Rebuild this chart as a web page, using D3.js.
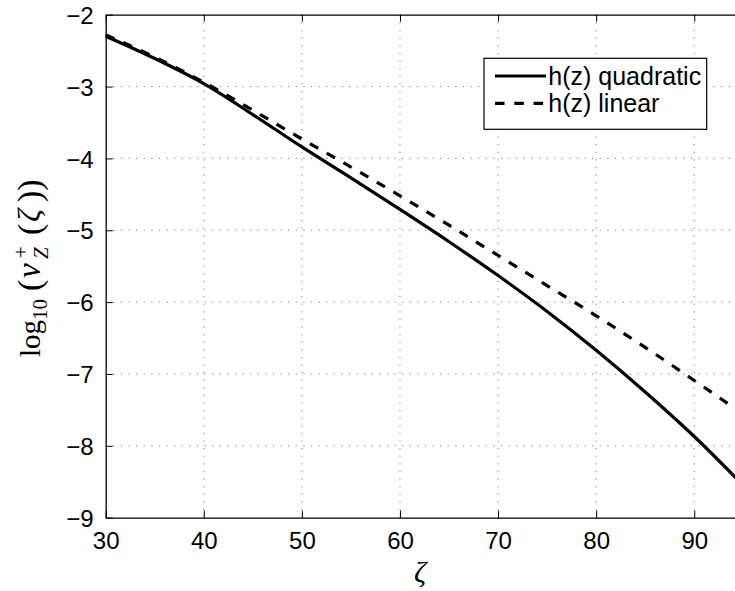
<!DOCTYPE html>
<html>
<head>
<meta charset="utf-8">
<script src="https://cdn.jsdelivr.net/npm/d3@7"></script>
<style>
  body { margin: 0; background: #fff; }
  svg { display: block; }
  .tick text { font-family: "Liberation Sans", Arial, sans-serif; font-size: 24px; fill: #000; }
</style>
</head>
<body>
<div id="chart"></div>
<script>
// zeta values
const zeta = [30, 35, 40, 45, 50, 55, 60, 65, 70, 75, 80, 85, 90, 95];
// log10(nu_Z^+) for h(z) quadratic
const quadratic = [-2.30, -2.61, -2.96, -3.39, -3.84, -4.27, -4.71, -5.16, -5.63, -6.13, -6.67, -7.25, -7.87, -8.55];
// log10(nu_Z^+) for h(z) linear
const linear = [-2.28, -2.59, -2.94, -3.33, -3.73, -4.12, -4.52, -4.93, -5.35, -5.77, -6.19, -6.63, -7.09, -7.56];
const xTicks = [30, 40, 50, 60, 70, 80, 90];
const yTicks = [-9, -8, -7, -6, -5, -4, -3, -2];
const seriesNames = ['h(z) quadratic', 'h(z) linear'];

const width = 735, height = 591;
const margin = [14.7, 73.3, 105.7, -8.3]; // top, bottom, left, right

const svg = d3.select('#chart').append('svg')
    .attr('width', width).attr('height', height);

const x = d3.scaleLinear([30, 95], [margin[2], width - margin[3]]);
const y = d3.scaleLinear([-9, -2], [height - margin[1], margin[0]]);

const x0 = x.range()[0], x1 = x.range()[1];
const y0 = y.range()[0], y1 = y.range()[1];

// grid
const grid = svg.append('g')
    .attr('stroke', '#7a7a7a').attr('stroke-width', 1)
    .attr('stroke-dasharray', '1.2,6.4');
grid.selectAll('line.gx').data(xTicks.slice(1))
    .join('line').classed('gx', true)
    .attr('x1', d => x(d)).attr('x2', d => x(d))
    .attr('y1', y0).attr('y2', y1);
grid.selectAll('line.gy').data(yTicks.slice(1, -1))
    .join('line').classed('gy', true)
    .attr('x1', x0).attr('x2', x1)
    .attr('y1', d => y(d)).attr('y2', d => y(d));

// axes
const axisX = svg.append('g')
    .attr('transform', `translate(0,${y0})`)
    .call(d3.axisBottom(x).tickValues(xTicks).tickSizeInner(-7).tickSizeOuter(0).tickPadding(14));
const axisXTop = svg.append('g')
    .attr('transform', `translate(0,${y1})`)
    .call(d3.axisTop(x).tickValues(xTicks).tickSizeInner(-7).tickSizeOuter(0).tickFormat(''));
const axisY = svg.append('g')
    .attr('transform', `translate(${x0},0)`)
    .call(d3.axisLeft(y).tickValues(yTicks).tickFormat(d3.format('d'))
        .tickSizeInner(-7).tickSizeOuter(0).tickPadding(12));
[axisX, axisXTop, axisY].forEach(a => {
    a.select('.domain').attr('stroke', '#000').attr('stroke-width', 1.3);
    a.selectAll('.tick line').attr('stroke', '#000').attr('stroke-width', 1);
});
axisX.selectAll('.tick text').attr('dy', '0.71em');
axisY.selectAll('.tick text').attr('dy', '0.36em');

// curves
const line = d3.line()
    .x((d, i) => x(zeta[i]))
    .y(d => y(d))
    .curve(d3.curveMonotoneX);

const plot = svg.append('g');
plot.append('path').datum(linear)
    .attr('d', line).attr('fill', 'none')
    .attr('stroke', '#000').attr('stroke-width', 3.2)
    .attr('stroke-dasharray', '9.5,9.8');
plot.append('path').datum(quadratic)
    .attr('d', line).attr('fill', 'none')
    .attr('stroke', '#000').attr('stroke-width', 3.2);

// legend
const legend = svg.append('g').attr('transform', 'translate(484,58.3)');
legend.append('rect')
    .attr('width', 222.7).attr('height', 71)
    .attr('fill', '#fff').attr('stroke', '#000').attr('stroke-width', 1.2);
seriesNames.forEach((name, i) => {
    const ly = 17.7 + i * 27.3;
    legend.append('line')
        .attr('x1', 11).attr('x2', 62).attr('y1', ly).attr('y2', ly)
        .attr('stroke', '#000').attr('stroke-width', 3.2)
        .attr('stroke-dasharray', i === 1 ? '9.5,9.8' : null);
    legend.append('text')
        .attr('x', 64.3).attr('y', ly).attr('dy', '0.36em')
        .style('font-family', '"Liberation Sans", Arial, sans-serif')
        .style('font-size', '25px')
        .text(name);
});

// axis labels
svg.append('text')
    .attr('x', 420).attr('y', 582)
    .attr('text-anchor', 'middle')
    .style('font-family', '"Liberation Serif", "DejaVu Serif", serif')
    .style('font-style', 'italic').style('font-size', '30px')
    .text('ζ');

// y label: log10(ν_Z^+(ζ)), pieces placed along the rotated baseline
const ylab = svg.append('text')
    .attr('transform', 'translate(40,357)rotate(-90)')
    .style('font-family', '"Liberation Serif", "DejaVu Serif", serif')
    .style('font-size', '28px');
const piece = (t, px, py, size, italic) => ylab.append('tspan')
    .attr('x', px).attr('y', py)
    .style('font-size', size + 'px')
    .style('font-style', italic ? 'italic' : 'normal')
    .text(t);
piece('log', 0, 0, 29, false);
piece('10', 37, 7, 21, false);
piece('(', 66, 1, 34, false);
piece('ν', 79, 0, 33, true);
piece('+', 99, -12, 21, false);
piece('Z', 98, 8, 21, true);
piece('(', 122, 1, 34, false);
piece('ζ', 135, 0, 32, true);
piece('))', 155, 1, 34, false);
</script>
</body>
</html>
